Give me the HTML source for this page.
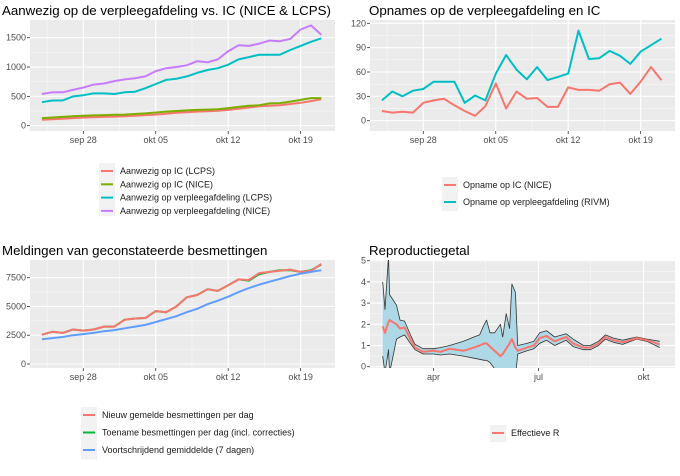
<!DOCTYPE html>
<html><head><meta charset="utf-8">
<style>
body{margin:0;background:#fff;}
svg{display:block;font-family:"Liberation Sans",Arial,sans-serif;}
.tl{font-size:9px;fill:#4D4D4D;}
.title{font-size:13.3px;fill:#000;}
.leg{font-size:9px;fill:#1a1a1a;}
</style></head>
<body>
<svg id="c" width="680" height="476" viewBox="0 0 680 476"></svg>
<script>
// ---------- data ----------
const days28 = [0,1,2,3,4,5,6,7,8,9,10,11,12,13,14,15,16,17,18,19,20,21,22,23,24,25,26,27]; // sep24..okt21
const dateTicks = ["sep 28","okt 05","okt 12","okt 19"];
const dateTickDays = [4,11,18,25];

const nicePleeg = [540,570,570,610,650,700,720,760,790,810,840,930,980,1000,1030,1100,1080,1130,1270,1370,1360,1400,1450,1440,1480,1640,1710,1550];
const lcpsPleeg = [400,430,430,500,520,550,550,540,570,580,640,710,780,800,840,900,950,980,1040,1130,1170,1210,1210,1210,1290,1360,1430,1490];
const niceIC = [130,140,150,160,170,175,180,185,190,200,210,225,240,250,260,270,275,280,300,320,340,350,380,385,410,440,470,470];
const lcpsIC = [100,110,120,130,140,145,150,155,160,170,180,190,205,220,230,240,245,255,270,290,310,330,340,350,370,390,420,450];
const p1Ticks = [0,500,1000,1500];

const opnameIC = [12,10,11,10,22,25,27,19,12,6,18,46,15,36,27,28,17,17,41,38,38,37,45,47,33,48,66,50];
const opnamePleeg = [25,36,30,37,39,48,48,48,22,31,25,58,81,63,51,66,50,54,58,111,76,77,86,80,70,85,93,101];
const p2Ticks = [0,30,60,90,120];

const nieuw = [2550,2800,2700,3000,2900,3000,3250,3250,3850,3950,4000,4600,4500,5000,5800,6000,6500,6350,6850,7350,7300,7900,8000,8100,8200,8000,8100,8700];
const toename = [2550,2800,2700,3000,2900,3000,3250,3250,3850,3950,4000,4600,4500,5000,5800,6000,6500,6350,6850,7350,7250,7800,8000,8150,8150,8000,8150,8650];
const gemiddeld = [2150,2250,2350,2500,2600,2700,2850,2950,3100,3250,3400,3650,3900,4150,4500,4800,5200,5500,5850,6250,6600,6900,7150,7400,7650,7850,8000,8150];
const p3Ticks = [0,2500,5000,7500];

const rDays = [0,2,5,6,12,15,19,24,28,35,44,50,58,70,79,84,88,90,93,97,102,104,107,110,112,115,117,125,131,136,142,149,159,165,174,180,187,193,200,208,220,229,240];
const rVal  = [1.9,1.6,2.1,2.2,2.0,1.8,1.85,1.3,0.9,0.7,0.75,0.7,0.85,0.75,0.9,1.0,1.1,1.1,0.95,0.75,0.5,0.6,0.85,1.1,1.3,0.9,0.75,0.9,1.0,1.35,1.45,1.2,1.4,1.1,0.9,0.9,1.1,1.4,1.25,1.15,1.35,1.25,1.05];
const rLo   = [0.5,-0.3,0.8,-0.3,1.3,1.4,1.5,1.1,0.8,0.6,0.6,0.55,0.6,0.5,0.4,0.35,0.3,0.3,0.2,-0.1,-0.5,-0.5,-0.5,-0.5,-0.5,-0.5,0.6,0.75,0.85,1.1,1.25,1.0,1.25,0.95,0.8,0.8,1.0,1.3,1.15,1.05,1.3,1.2,0.9];
const rHi   = [4.0,2.7,5.2,3.4,2.9,2.2,2.15,1.5,1.05,0.85,0.85,0.9,1.0,1.2,1.4,1.5,2.0,2.2,1.6,1.6,2.0,1.4,2.5,1.8,3.9,3.5,1.0,1.1,1.2,1.6,1.7,1.4,1.55,1.3,1.0,1.0,1.2,1.5,1.35,1.25,1.4,1.3,1.2];
const p4Ticks = [0,1,2,3,4,5];
const monthTicks = ["apr","jul","okt"];
const monthTickDays = [44,135,226];

// ---------- helpers ----------
const NS="http://www.w3.org/2000/svg";
const svg=document.getElementById('c');
function mk(tag,attrs,parent){const e=document.createElementNS(NS,tag);for(const k in attrs)e.setAttribute(k,attrs[k]);(parent||svg).appendChild(e);return e;}
function txt(s,x,y,cls,anchor,parent){const t=mk('text',{x:x,y:y,class:cls,'text-anchor':anchor||'start'},parent);t.textContent=s;return t;}

function panel(id,px0,px1,py0,py1,sx,sy){
  return {sx,sy,px0,px1,py0,py1,id};
}
function frame(P,yTicks,yMinor,xTicks,xLabels,xMinor,name){
  const g=mk('g',{});
  
  
  mk('rect',{x:P.px0,y:P.py0,width:P.px1-P.px0,height:P.py1-P.py0,fill:'#EBEBEB'},g);
  yMinor.forEach(v=>mk('line',{x1:P.px0,x2:P.px1,y1:P.sy(v),y2:P.sy(v),stroke:'#F7F7F7','stroke-width':0.6},g));
  xMinor.forEach(v=>mk('line',{y1:P.py0,y2:P.py1,x1:P.sx(v),x2:P.sx(v),stroke:'#F7F7F7','stroke-width':0.6},g));
  yTicks.forEach(v=>{mk('line',{x1:P.px0,x2:P.px1,y1:P.sy(v),y2:P.sy(v),stroke:'#fff','stroke-width':1.1},g);
    mk('line',{x1:P.px0-3,x2:P.px0,y1:P.sy(v),y2:P.sy(v),stroke:'#333','stroke-width':0.8},g);
    const t=txt(String(v),P.px0-4,P.sy(v)+3,'tl','end',g);
    
    });
  xTicks.forEach((v,i)=>{mk('line',{y1:P.py0,y2:P.py1,x1:P.sx(v),x2:P.sx(v),stroke:'#fff','stroke-width':1.1},g);
    mk('line',{y1:P.py1,y2:P.py1+3,x1:P.sx(v),x2:P.sx(v),stroke:'#333','stroke-width':0.8},g);
    const t=txt(xLabels[i],P.sx(v),P.py1+12,'tl','middle',g);
    
    });
  const cp=mk('clipPath',{id:'clip'+P.id},g);
  mk('rect',{x:P.px0,y:P.py0,width:P.px1-P.px0,height:P.py1-P.py0},cp);
  return g;
}
function line(P,xs,ys,color,w,name){
  const d=xs.map((x,i)=>(i?'L':'M')+P.sx(x).toFixed(1)+','+P.sy(ys[i]).toFixed(1)).join('');
  const p=mk('path',{d:d,fill:'none',stroke:color,'stroke-width':w,'stroke-linejoin':'round','clip-path':'url(#clip'+P.id+')'});
  
  
  return p;
}
function legend(x,y0,dy,items,name){
  const g=mk('g',{});
  
  
  mk('rect',{x:x-1,y:y0-8,width:16,height:dy*items.length,fill:'#F2F2F2'},g);
  items.forEach((it,i)=>{const y=y0+i*dy;
    mk('line',{x1:x+1,x2:x+13,y1:y,y2:y,stroke:it[1],'stroke-width':2},g);
    const t=txt(it[0],x+20,y+3,'leg','start',g);
    
    });
}
const xMinor28=[0.5,7.5,14.5,21.5];
const dayX=(off)=>d=>off+83.3+(d-4)*10.35;

// ---------- panel 1 ----------
let t=txt('Aanwezig op de verpleegafdeling vs. IC (NICE & LCPS)',2,15,'title');


const P1=panel(1,30,335,20,131,dayX(0),v=>125.7-v*(88/1500));
frame(P1,p1Ticks,[250,750,1250],dateTickDays,dateTicks,xMinor28,'chart-1');
line(P1,days28,lcpsIC,'#F8766D',2,'line-ic-lcps');
line(P1,days28,niceIC,'#7CAE00',2,'line-ic-nice');
line(P1,days28,lcpsPleeg,'#00BFC4',2,'line-verpleeg-lcps');
line(P1,days28,nicePleeg,'#C77CFF',2,'line-verpleeg-nice');
legend(100,171,13.3,[['Aanwezig op IC (LCPS)','#F8766D'],['Aanwezig op IC (NICE)','#7CAE00'],['Aanwezig op verpleegafdeling (LCPS)','#00BFC4'],['Aanwezig op verpleegafdeling (NICE)','#C77CFF']],'legend-1');

// ---------- panel 2 ----------
t=txt('Opnames op de verpleegafdeling en IC',369,15,'title');


const P2=panel(2,370,675,20,131,dayX(340),v=>120.7-v*(97.4/120));
frame(P2,p2Ticks,[15,45,75,105],dateTickDays,dateTicks,xMinor28,'chart-2');
line(P2,days28,opnameIC,'#F8766D',2,'line-opname-ic');
line(P2,days28,opnamePleeg,'#00BFC4',2,'line-opname-verpleeg');
legend(443,185,17,[['Opname op IC (NICE)','#F8766D'],['Opname op verpleegafdeling (RIVM)','#00BFC4']],'legend-2');

// ---------- panel 3 ----------
t=txt('Meldingen van geconstateerde besmettingen',2,255,'title');


const P3=panel(3,30,335,260,368,dayX(0),v=>364-v*(86.3/7500));
frame(P3,p3Ticks,[1250,3750,6250],dateTickDays,dateTicks,xMinor28,'chart-3');
line(P3,days28,toename,'#00BA38',2,'line-toename');
line(P3,days28,nieuw,'#F8766D',2,'line-nieuw');
line(P3,days28,gemiddeld,'#619CFF',2,'line-gemiddeld');
legend(82,415,17.5,[['Nieuw gemelde besmettingen per dag','#F8766D'],['Toename besmettingen per dag (incl. correcties)','#00BA38'],['Voortschrijdend gemiddelde (7 dagen)','#619CFF']],'legend-3');

// ---------- panel 4 ----------
t=txt('Reproductiegetal',369,255,'title');


const P4=panel(4,370,675,260,368,d=>382.7+d*1.154,v=>366.7-v*21.2);
frame(P4,p4Ticks,[0.5,1.5,2.5,3.5,4.5],monthTickDays,monthTicks,[-1,89,180],'chart-4');
(function(){
  const up=rDays.map((d,i)=>P4.sx(d).toFixed(1)+','+P4.sy(rHi[i]).toFixed(1));
  const dn=rDays.map((d,i)=>P4.sx(d).toFixed(1)+','+P4.sy(rLo[i]).toFixed(1)).reverse();
  const band=mk('polygon',{points:up.concat(dn).join(' '),fill:'#ADD8E6',stroke:'none','clip-path':'url(#clip4)'});
  
  
})();
line(P4,rDays,rHi,'#333',0.8,'upper-bound-line');
line(P4,rDays,rLo,'#333',0.8,'lower-bound-line');
line(P4,rDays,rVal,'#F8766D',2,'line-effectieve-r');
legend(491,433,17,[['Effectieve R','#F8766D']],'legend-4');
</script>
</body></html>
